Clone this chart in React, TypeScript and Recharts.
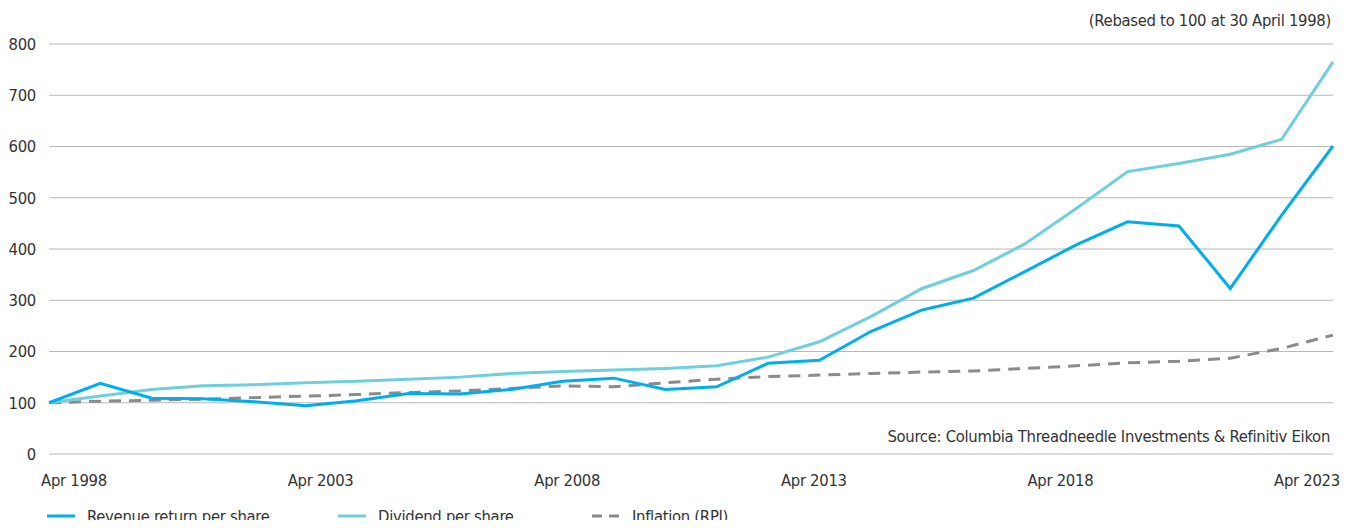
import { LineChart, Line, XAxis, YAxis, CartesianGrid } from "recharts";

const years = [1998, 1999, 2000, 2001, 2002, 2003, 2004, 2005, 2006, 2007, 2008, 2009, 2010, 2011, 2012, 2013, 2014, 2015, 2016, 2017, 2018, 2019, 2020, 2021, 2022, 2023];
const revenue = [100, 138, 109, 108, 102, 94, 104, 118, 117, 126, 142, 148, 126, 131, 177, 183, 239, 281, 304, 356, 408, 453, 445, 323, 466, 601];
const dividend = [100, 113, 126, 133, 135, 139, 142, 146, 150, 157, 161, 164, 167, 172, 189, 219, 268, 323, 358, 410, 479, 551, 567, 585, 614, 765];
const inflation = [100, 103, 105, 107, 110, 113, 116, 120, 123, 128, 133, 131, 139, 146, 151, 154, 157, 160, 162, 167, 172, 178, 181, 187, 206, 232];
const xTicks = [1998, 2003, 2008, 2013, 2018, 2023];
const yTicks = [0, 100, 200, 300, 400, 500, 600, 700, 800];

const FONT = "'DejaVu Sans Condensed', 'DejaVu Sans', sans-serif";
const SIZE = 16.5;
const SPACING = "-0.3px";
const TEXT = "#333333";

const data = years.map((y, i) => ({
  year: y,
  revenue: revenue[i],
  dividend: dividend[i],
  inflation: inflation[i],
}));

const legendItems = [
  { name: "Revenue return per share", color: "#00aeef", dash: false, left: 39 },
  { name: "Dividend per share", color: "#6fcfdc", dash: false, left: 330 },
  { name: "Inflation (RPI)", color: "#8b8b8e", dash: true, left: 584 },
];

// labels sit slightly inward from the data points, like the original
function XTick(props: any) {
  const { x, y, payload } = props;
  const pos = 66 + (x - 41) * (246.6 / 256.8);
  return (
    <text x={pos} y={y + 30} textAnchor="middle" fill={TEXT} fontSize={SIZE} fontFamily={FONT} letterSpacing={SPACING}>
      {"Apr " + payload.value}
    </text>
  );
}

function App() {
  return (
    <div style={{ position: "relative", width: 1342, height: 512, fontFamily: FONT, color: TEXT, fontSize: SIZE, letterSpacing: SPACING }}>
      <LineChart width={1342} height={512} data={data} margin={{ top: 36, right: 17, left: 0, bottom: 26 }} style={{ overflow: "visible" }}>
        <CartesianGrid vertical={false} stroke="#b8b8b8" strokeWidth={1} />
        <XAxis
          dataKey="year"
          type="number"
          domain={[1998, 2023]}
          ticks={xTicks}
          axisLine={false}
          tickLine={false}
          tickSize={0}
          height={40}
          tick={<XTick />}
        />
        <YAxis
          domain={[0, 800]}
          ticks={yTicks}
          axisLine={false}
          tickLine={false}
          tickSize={0}
          tickMargin={13}
          width={41}
          tick={{ fill: TEXT, fontSize: SIZE, fontFamily: FONT, letterSpacing: SPACING }}
        />
        <Line type="linear" dataKey="inflation" stroke="#8b8b8e" strokeWidth={3} strokeDasharray="12 8" dot={false} isAnimationActive={false} />
        <Line type="linear" dataKey="dividend" stroke="#6fcfdc" strokeWidth={3} dot={false} isAnimationActive={false} />
        <Line type="linear" dataKey="revenue" stroke="#00aeef" strokeWidth={3} dot={false} isAnimationActive={false} />
      </LineChart>
      <div style={{ position: "absolute", right: 19, top: 3, whiteSpace: "nowrap" }}>
        (Rebased to 100 at 30 April 1998)
      </div>
      <div style={{ position: "absolute", right: 20, top: 419, whiteSpace: "nowrap" }}>
        Source: Columbia Threadneedle Investments &amp; Refinitiv Eikon
      </div>
      {legendItems.map((it) => (
        <div key={it.name} style={{ position: "absolute", left: it.left, top: 496, height: 24, display: "flex", alignItems: "center", whiteSpace: "nowrap" }}>
          <svg width={28} height={6} style={{ marginRight: 12 }}>
            <line x1={0} y1={3} x2={28} y2={3} stroke={it.color} strokeWidth={3} strokeDasharray={it.dash ? "10 7" : undefined} />
          </svg>
          <span>{it.name}</span>
        </div>
      ))}
    </div>
  );
}

export default App;
